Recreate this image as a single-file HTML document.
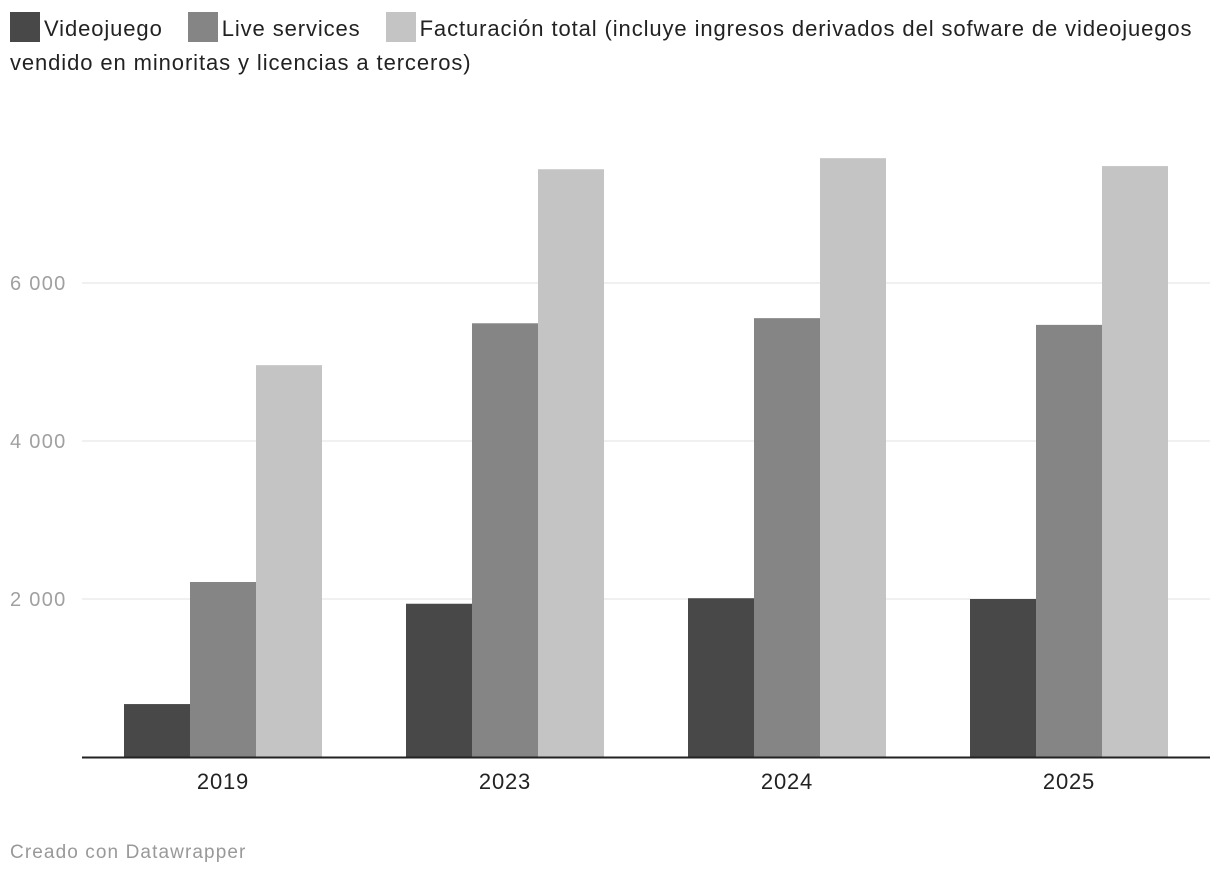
<!DOCTYPE html>
<html><head><meta charset="utf-8"><style>
body{margin:0;background:#fff;font-family:"Liberation Sans",Roboto,sans-serif;}
#wrap{position:relative;width:1220px;height:880px;overflow:hidden}
.legend{position:absolute;left:10px;top:12px;width:1200px;font-size:22px;line-height:34px;color:#222;letter-spacing:0.9px}
.sw{display:inline-block;width:30px;height:30px;vertical-align:-6px;margin-right:4px}
.li{margin-right:18px}
.foot{position:absolute;left:10px;top:842px;font-size:19px;color:#999;letter-spacing:1.1px}
</style></head><body><div id="wrap">
<div class="legend">
<span class="li"><span class="sw" style="background:#484848"></span>Videojuego</span>
<span class="li"><span class="sw" style="background:#858585"></span>Live services</span>
<span><span class="sw" style="background:#c4c4c4"></span>Facturación total (incluye ingresos derivados del sofware de videojuegos vendido en minoritas y licencias a terceros)</span>
</div>
<svg id="svg" width="1220" height="880" style="position:absolute;left:0;top:0"></svg>
<div class="foot">Creado con Datawrapper</div>
</div>
<script>
const categories=["2019","2023","2024","2025"];
const videojuego=[670,1940,2010,2000];
const liveServices=[2215,5490,5555,5470];
const facturacion=[4960,7440,7580,7480];
const ticks=[2000,4000,6000];
const tickLabels=["2 000","4 000","6 000"];
const NS="http://www.w3.org/2000/svg",svg=document.getElementById('svg');
const x0=82,x1=1210,y0=757,k=158/2000;
const y=v=>y0-v*k;
const band=(x1-x0)/categories.length;
function mk(t,a){const e=document.createElementNS(NS,t);for(const n in a)e.setAttribute(n,a[n]);svg.appendChild(e);return e;}
ticks.forEach((t,i)=>{
 const l=mk('line',{x1:x0,x2:x1,y1:y(t),y2:y(t),stroke:'#e2e2e2','stroke-width':1});
 
 
 const tx=mk('text',{x:10,y:y(t)+7,'font-size':20,fill:'#a0a0a0','letter-spacing':1.3,'font-family':'Liberation Sans,sans-serif'});
 tx.textContent=tickLabels[i];
 
 
});
const series=[[videojuego,'#484848','videojuego'],[liveServices,'#858585','live-services'],[facturacion,'#c4c4c4','facturacion']];
const bw=66;
categories.forEach((c,i)=>{
 const cx=x0+band*(i+0.5);
 series.forEach((s,j)=>{
  const v=s[0][i];
  const r=mk('rect',{x:cx-1.5*bw+j*bw,y:y(v),width:bw,height:y0-y(v),fill:s[1]});
  
  
 });
 const t=mk('text',{x:cx,y:789,'text-anchor':'middle','font-size':22,'letter-spacing':0.8,fill:'#222','font-family':'Liberation Sans,sans-serif'});
 t.textContent=c;
 
 
});
const ax=mk('line',{x1:x0,x2:x1,y1:y0+0.5,y2:y0+0.5,stroke:'#222','stroke-width':2});


</script></body></html>
